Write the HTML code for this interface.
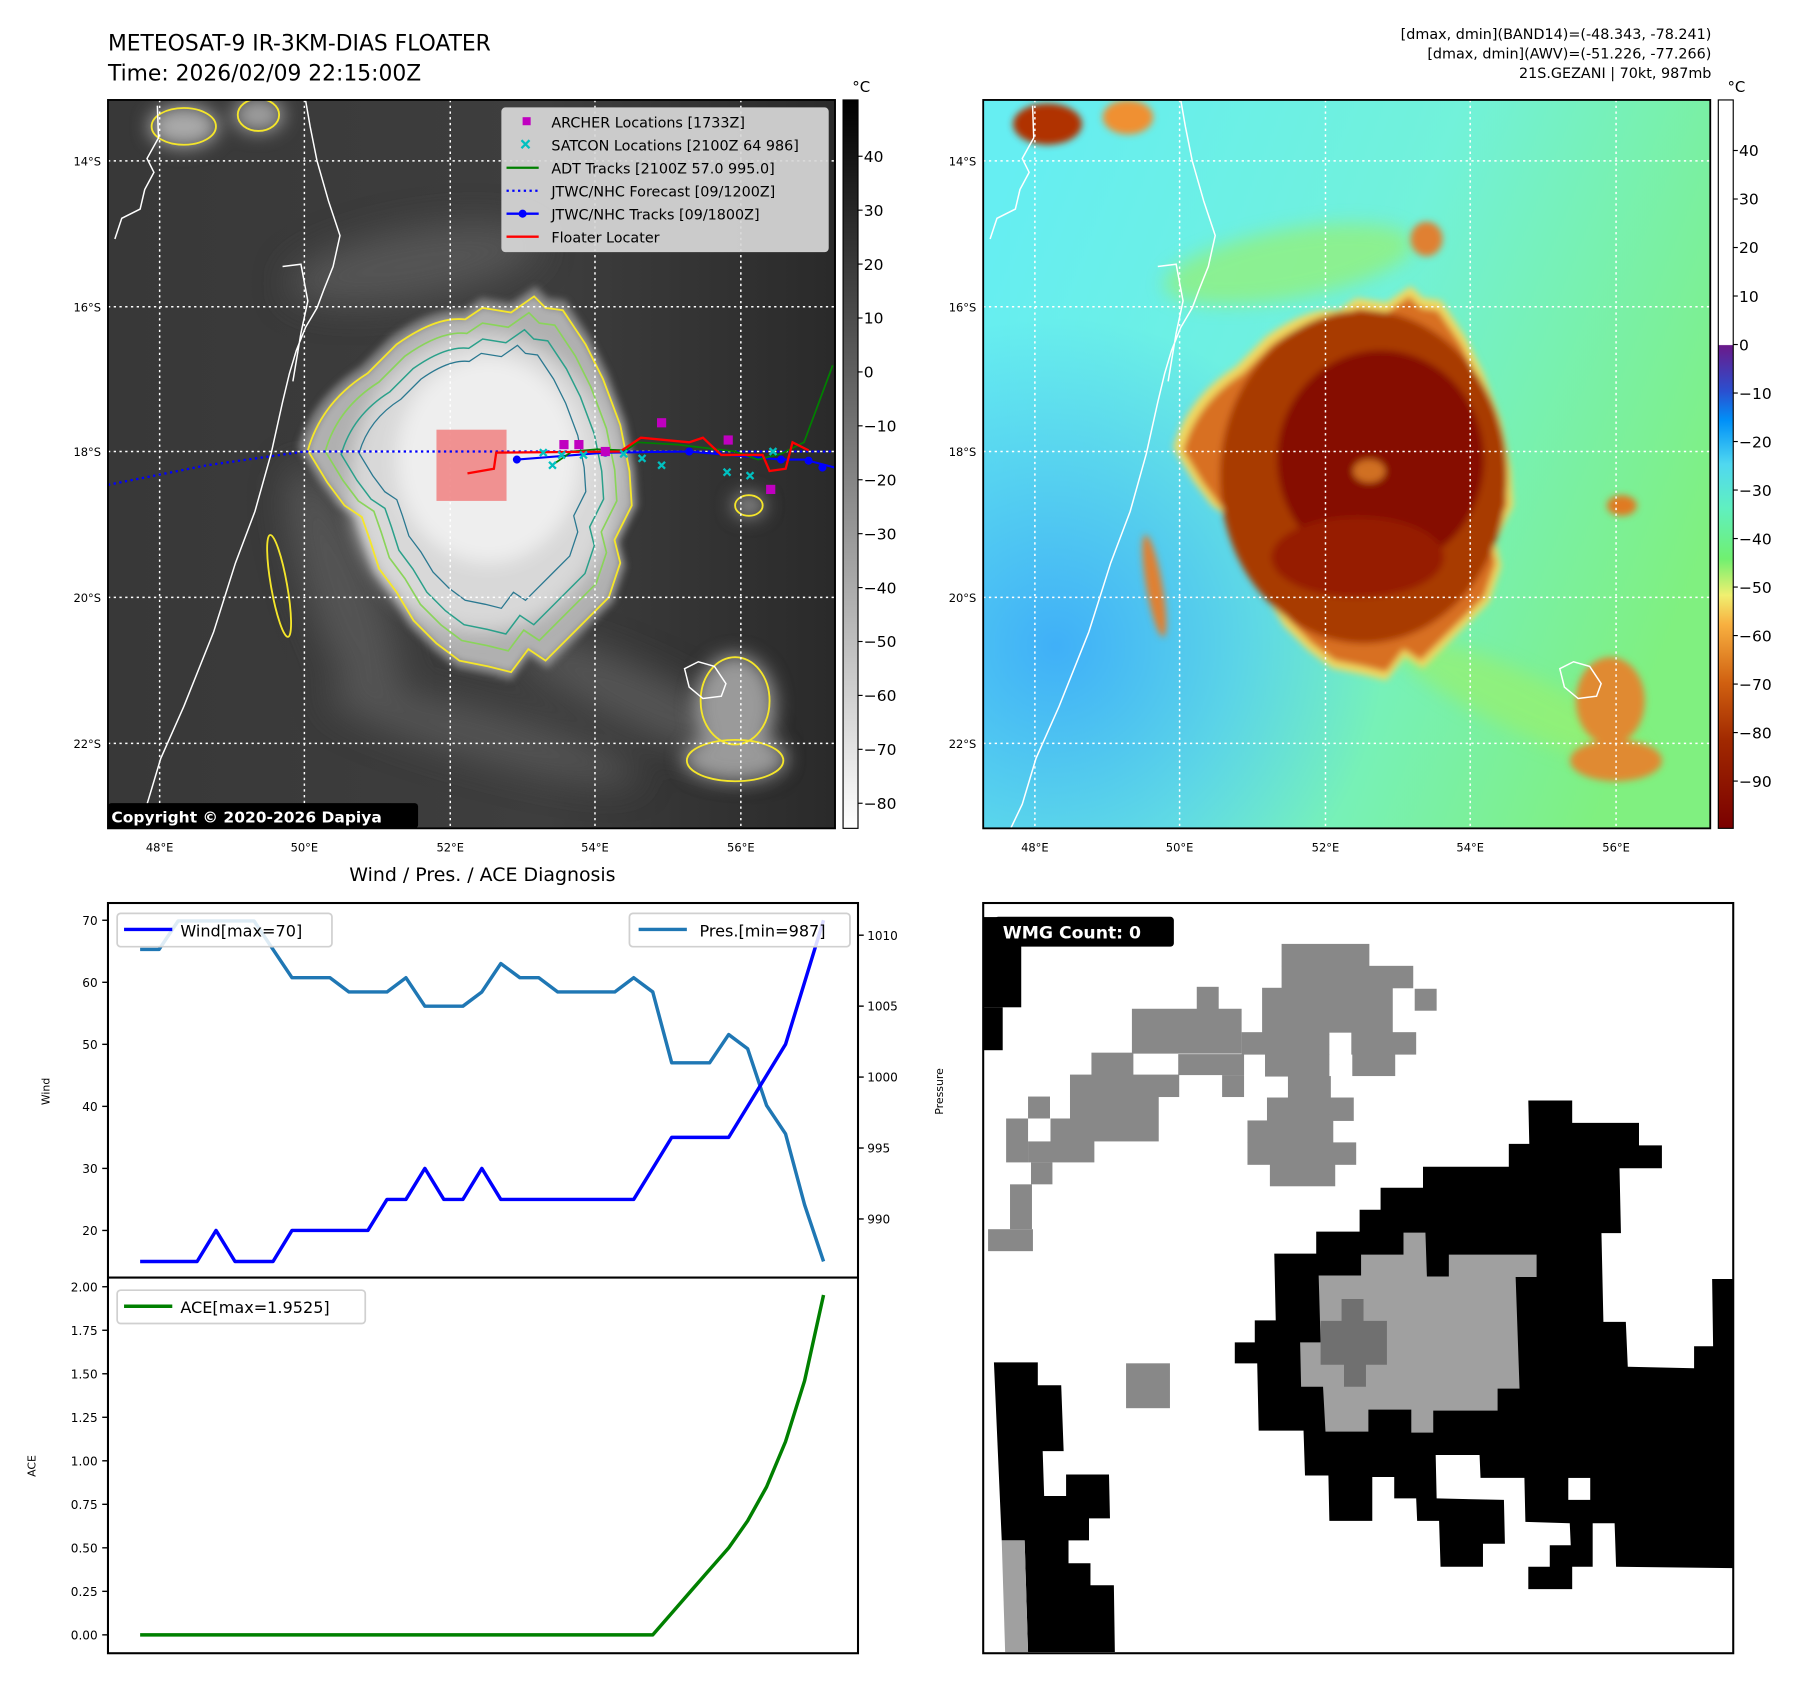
<!DOCTYPE html>
<html><head><meta charset="utf-8">
<style>
html,body{margin:0;padding:0;background:#fff;}
svg{display:block;font-family:"DejaVu Sans","Liberation Sans",sans-serif;}
</style></head>
<body>
<svg id="root" width="1801" height="1690" viewBox="0 0 1568 1471" preserveAspectRatio="none" xmlns="http://www.w3.org/2000/svg">
<defs>
  <filter id="b3" x="-20%" y="-20%" width="140%" height="140%"><feGaussianBlur stdDeviation="3"/></filter>
  <filter id="b8" x="-30%" y="-30%" width="160%" height="160%"><feGaussianBlur stdDeviation="8"/></filter>
  <filter id="b15" x="-40%" y="-40%" width="180%" height="180%"><feGaussianBlur stdDeviation="15"/></filter>
  <clipPath id="c1"><rect x="94" y="87" width="633" height="634"/></clipPath>
  <clipPath id="c2"><rect x="856" y="87" width="633" height="634"/></clipPath>
  <clipPath id="c3"><rect x="856" y="786" width="653" height="653"/></clipPath>
  <linearGradient id="cb1" x1="0" y1="0" x2="0" y2="1"><stop offset="0" stop-color="#000"/><stop offset="1" stop-color="#fff"/></linearGradient>
  <linearGradient id="cb2" x1="0" y1="0" x2="0" y2="1">
    <stop offset="0" stop-color="#fff"/><stop offset="0.336" stop-color="#fff"/>
    <stop offset="0.337" stop-color="#6a1a8a"/><stop offset="0.40" stop-color="#2a50d0"/>
    <stop offset="0.44" stop-color="#0090f8"/><stop offset="0.50" stop-color="#50d8f0"/>
    <stop offset="0.56" stop-color="#60f0c0"/><stop offset="0.63" stop-color="#70f070"/>
    <stop offset="0.68" stop-color="#f0f070"/><stop offset="0.72" stop-color="#f8b040"/>
    <stop offset="0.80" stop-color="#d06010"/><stop offset="0.88" stop-color="#a02800"/>
    <stop offset="1" stop-color="#7a0000"/></linearGradient>
  <linearGradient id="bg2" x1="0" y1="0.2" x2="1" y2="0.6">
    <stop offset="0" stop-color="#66eef2"/><stop offset="0.5" stop-color="#72f2da"/><stop offset="1" stop-color="#80f080"/></linearGradient>
  <radialGradient id="bg2b" cx="0.1" cy="0.75" r="0.45"><stop offset="0" stop-color="#40b0f8"/><stop offset="1" stop-color="#40b0f8" stop-opacity="0"/></radialGradient>
  <linearGradient id="bg1" x1="0" y1="0" x2="1" y2="0"><stop offset="0" stop-color="#383838"/><stop offset="0.6" stop-color="#3e3e3e"/><stop offset="1" stop-color="#2a2a2a"/></linearGradient>
  <path id="cyc" d="M268,392 Q280,350 320,325 L345,300 Q380,275 405,278 L420,268 L445,272 L465,258 L475,268 L490,270 L510,300 L525,330 L540,370 L548,410 L550,440 L535,470 L540,490 L530,520 L510,540 L490,560 L475,575 L460,565 L445,585 L425,580 L400,575 L380,560 L360,540 L345,515 L330,495 L322,470 L315,450 L300,440 L285,420 Z"/>
  <path id="coast" d="M118,721 L128,700 L140,660 L160,615 L186,550 L205,490 L222,445 L236,395 L246,350 L252,325 L258,305 L266,285 L276,268 L282,252 L290,232 L296,205 L286,175 L276,140 L270,110 L266,87 M246,232 L262,230 L268,262 L262,290 L255,332 M100,208 L106,190 L122,182 L126,165 L134,150 L128,138 L138,120 L137,92 M596,582 L608,576 L622,580 L632,595 L628,606 L612,608 L600,598 Z"/>
</defs>

<text x="94" y="44" font-size="19">METEOSAT-9 IR-3KM-DIAS FLOATER</text>
<text x="94" y="70" font-size="19">Time: 2026/02/09 22:15:00Z</text>
<g font-size="12.5" text-anchor="end">
<text x="1490" y="34">[dmax, dmin](BAND14)=(-48.343, -78.241)</text>
<text x="1490" y="51">[dmax, dmin](AWV)=(-51.226, -77.266)</text>
<text x="1490" y="68">21S.GEZANI | 70kt, 987mb</text>
</g>

<!-- MAP 1 -->
<g clip-path="url(#c1)">
  <rect x="94" y="87" width="633" height="634" fill="url(#bg1)"/>
  <g filter="url(#b15)" fill="#555">
    <ellipse cx="360" cy="230" rx="110" ry="30" transform="rotate(-10 360 230)"/>
    <ellipse cx="300" cy="520" rx="30" ry="120" transform="rotate(-20 300 520)"/>
    <ellipse cx="560" cy="610" rx="120" ry="25" transform="rotate(25 560 610)"/>
    <ellipse cx="420" cy="640" rx="140" ry="20" transform="rotate(15 420 640)"/>
  </g>
  <g filter="url(#b3)">
    <use href="#cyc" fill="#a8a8a8" transform="translate(-22 -22) scale(1.05)" opacity="0.6"/>
    <use href="#cyc" fill="#b0b0b0"/>
  </g>
  <g filter="url(#b8)">
    <ellipse cx="420" cy="420" rx="115" ry="130" fill="#d8d8d8"/>
    <ellipse cx="425" cy="400" rx="80" ry="90" fill="#eeeeee"/>
    <ellipse cx="640" cy="615" rx="35" ry="45" fill="#9a9a9a"/>
    <ellipse cx="640" cy="660" rx="45" ry="20" fill="#9a9a9a"/>
    <ellipse cx="160" cy="110" rx="30" ry="18" fill="#aaaaaa"/>
    <ellipse cx="225" cy="100" rx="22" ry="15" fill="#a0a0a0"/>
    <ellipse cx="652" cy="440" rx="14" ry="10" fill="#909090"/>
  </g>
  <g fill="none" stroke-width="1.6">
    <use href="#cyc" stroke="#f5e62a"/>
    <use href="#cyc" stroke="#8ad45a" transform="translate(42 40) scale(0.9)"/>
    <use href="#cyc" stroke="#2aa08a" transform="translate(80 78) scale(0.81)"/>
    <use href="#cyc" stroke="#2a7890" transform="translate(125 120) scale(0.7)"/>
    <ellipse cx="160" cy="110" rx="28" ry="16" stroke="#f5e62a"/>
    <ellipse cx="225" cy="100" rx="18" ry="14" stroke="#f5e62a"/>
    <ellipse cx="640" cy="610" rx="30" ry="38" stroke="#f5e62a"/>
    <ellipse cx="640" cy="662" rx="42" ry="18" stroke="#f5e62a"/>
    <ellipse cx="652" cy="440" rx="12" ry="9" stroke="#f5e62a"/>
    <ellipse cx="243" cy="510" rx="7" ry="45" stroke="#f5e62a" transform="rotate(-10 243 510)"/>
  </g>
  <use href="#coast" fill="none" stroke="#fff" stroke-width="1.3"/>
  <g stroke="#fff" stroke-width="1.3" stroke-dasharray="2 3">
    <line x1="94" x2="727" y1="140" y2="140"/><line x1="94" x2="727" y1="267" y2="267"/><line x1="94" x2="727" y1="393" y2="393"/><line x1="94" x2="727" y1="520" y2="520"/><line x1="94" x2="727" y1="647" y2="647"/>
    <line y1="87" y2="721" x1="139" x2="139"/><line y1="87" y2="721" x1="265" x2="265"/><line y1="87" y2="721" x1="392" x2="392"/><line y1="87" y2="721" x1="518" x2="518"/><line y1="87" y2="721" x1="645" x2="645"/>
  </g>
  <rect x="380" y="374" width="61" height="62" fill="#f08080" opacity="0.85"/>
  <polyline points="94,422 180,405 265,393 727,393" fill="none" stroke="#0000ff" stroke-width="2" stroke-dasharray="2 3"/>
  <polyline points="450,400 527,394 600,393 680,400 700,400 727,407" fill="none" stroke="#0000ff" stroke-width="1.8"/>
  <g fill="#0000ff"><circle cx="450" cy="400" r="3.5"/><circle cx="527" cy="394" r="3.5"/><circle cx="600" cy="393" r="3.5"/><circle cx="680" cy="400" r="3.5"/><circle cx="704" cy="401" r="3.5"/><circle cx="716" cy="407" r="3.5"/></g>
  <polyline points="482,404 498,393 520,391 545,392 555,385 590,387 640,393 660,400 680,395 700,385 725,318" fill="none" stroke="#008000" stroke-width="1.5"/>
  <polyline points="407,412 430,408 432,394 540,393 558,381 600,385 612,381 628,396 664,396 670,410 684,408 690,385 704,392" fill="none" stroke="#ff0000" stroke-width="2"/>
  <g fill="none" stroke="#00c0c0" stroke-width="2">
    <path d="M470,391l6,6m0-6l-6,6M486,393l6,6m0-6l-6,6M505,393l6,6m0-6l-6,6M540,392l6,6m0-6l-6,6M556,396l6,6m0-6l-6,6M573,402l6,6m0-6l-6,6M630,408l6,6m0-6l-6,6M650,411l6,6m0-6l-6,6M670,390l6,6m0-6l-6,6M478,402l6,6m0-6l-6,6"/>
  </g>
  <g fill="#c000c0">
    <rect x="487" y="383" width="8" height="8"/><rect x="500" y="383" width="8" height="8"/><rect x="572" y="364" width="8" height="8"/><rect x="630" y="379" width="8" height="8"/><rect x="523" y="389" width="8" height="8"/><rect x="667" y="422" width="8" height="8"/>
  </g>
</g>
<rect x="94" y="87" width="633" height="634" fill="none" stroke="#000" stroke-width="1.6"/>
<g>
  <rect x="437" y="94" width="284" height="125" rx="3" fill="#d8d8d8" fill-opacity="0.92" stroke="#ccc"/>
  <rect x="455" y="102" width="7" height="7" fill="#c000c0"/>
  <path d="M454,122l7,7m0-7l-7,7" stroke="#00c0c0" stroke-width="2"/>
  <line x1="441" x2="469" y1="146" y2="146" stroke="#008000" stroke-width="2"/>
  <line x1="441" x2="469" y1="166" y2="166" stroke="#0000ff" stroke-width="2" stroke-dasharray="2 3"/>
  <line x1="441" x2="469" y1="186" y2="186" stroke="#0000ff" stroke-width="2"/><circle cx="455" cy="186" r="3.5" fill="#0000ff"/>
  <line x1="441" x2="469" y1="206" y2="206" stroke="#ff0000" stroke-width="2"/>
  <g font-size="12.5" fill="#000">
    <text x="480" y="111">ARCHER Locations [1733Z]</text>
    <text x="480" y="131">SATCON Locations [2100Z 64 986]</text>
    <text x="480" y="151">ADT Tracks [2100Z 57.0 995.0]</text>
    <text x="480" y="171">JTWC/NHC Forecast [09/1200Z]</text>
    <text x="480" y="191">JTWC/NHC Tracks [09/1800Z]</text>
    <text x="480" y="211">Floater Locater</text>
  </g>
</g>
<g>
  <rect x="94" y="699" width="270" height="22" rx="3" fill="#000"/>
  <text x="97" y="716" font-size="13.5" font-weight="bold" fill="#fff">Copyright © 2020-2026 Dapiya</text>
</g>
<g font-size="10" text-anchor="end">
  <text x="88" y="144">14°S</text><text x="88" y="271">16°S</text><text x="88" y="397">18°S</text><text x="88" y="524">20°S</text><text x="88" y="651">22°S</text>
</g>
<g font-size="10" text-anchor="middle">
  <text x="139" y="741">48°E</text><text x="265" y="741">50°E</text><text x="392" y="741">52°E</text><text x="518" y="741">54°E</text><text x="645" y="741">56°E</text>
</g>
<g>
  <rect x="734" y="87" width="13" height="634" fill="url(#cb1)" stroke="#000" stroke-width="1"/>
  <text x="742" y="80" font-size="13">°C</text>
  <g id="cb1ticks" font-size="13.5"></g>
</g>

<!-- MAP 2 -->
<g clip-path="url(#c2)">
  <rect x="856" y="87" width="633" height="634" fill="url(#bg2)"/>
  <rect x="856" y="87" width="633" height="634" fill="url(#bg2b)"/>
  <g transform="translate(762 0)">
    <g filter="url(#b8)" fill="#98f070" opacity="0.7">
      <ellipse cx="360" cy="230" rx="110" ry="30" transform="rotate(-10 360 230)"/>
      <ellipse cx="560" cy="610" rx="120" ry="25" transform="rotate(25 560 610)"/>
    </g>
    <g filter="url(#b3)">
      <use href="#cyc" fill="#f0d860" transform="translate(-22 -22) scale(1.05)"/>
      <use href="#cyc" fill="#d87020"/>
      <ellipse cx="425" cy="415" rx="125" ry="145" fill="#a83a06"/>
      <ellipse cx="440" cy="400" rx="90" ry="95" fill="#860800"/>
      <ellipse cx="420" cy="485" rx="75" ry="35" fill="#961e00"/>
      <ellipse cx="430" cy="410" rx="14" ry="10" fill="#d07020"/>
      <ellipse cx="640" cy="610" rx="30" ry="38" fill="#e08a30"/>
      <ellipse cx="645" cy="662" rx="40" ry="18" fill="#e08a30"/>
      <ellipse cx="150" cy="108" rx="30" ry="18" fill="#b03000"/>
      <ellipse cx="220" cy="102" rx="22" ry="15" fill="#f09030"/>
      <ellipse cx="650" cy="440" rx="13" ry="9" fill="#e07a20"/>
      <ellipse cx="480" cy="208" rx="14" ry="15" fill="#e08030"/>
      <ellipse cx="243" cy="510" rx="7" ry="45" fill="#e08030" transform="rotate(-10 243 510)"/>
    </g>
    <use href="#coast" fill="none" stroke="#fff" stroke-width="1.3"/>
    <g stroke="#fff" stroke-width="1.3" stroke-dasharray="2 3">
      <line x1="94" x2="727" y1="140" y2="140"/><line x1="94" x2="727" y1="267" y2="267"/><line x1="94" x2="727" y1="393" y2="393"/><line x1="94" x2="727" y1="520" y2="520"/><line x1="94" x2="727" y1="647" y2="647"/>
      <line y1="87" y2="721" x1="139" x2="139"/><line y1="87" y2="721" x1="265" x2="265"/><line y1="87" y2="721" x1="392" x2="392"/><line y1="87" y2="721" x1="518" x2="518"/><line y1="87" y2="721" x1="645" x2="645"/>
    </g>
  </g>
</g>
<rect x="856" y="87" width="633" height="634" fill="none" stroke="#000" stroke-width="1.6"/>
<g font-size="10" text-anchor="end">
  <text x="850" y="144">14°S</text><text x="850" y="271">16°S</text><text x="850" y="397">18°S</text><text x="850" y="524">20°S</text><text x="850" y="651">22°S</text>
</g>
<g font-size="10" text-anchor="middle">
  <text x="901" y="741">48°E</text><text x="1027" y="741">50°E</text><text x="1154" y="741">52°E</text><text x="1280" y="741">54°E</text><text x="1407" y="741">56°E</text>
</g>
<g>
  <rect x="1496" y="87" width="13" height="634" fill="url(#cb2)" stroke="#000" stroke-width="1"/>
  <text x="1504" y="80" font-size="13">°C</text>
  <g id="cb2ticks" font-size="13.5"></g>
</g>

<!-- Bottom-left chart -->
<text x="420" y="767" font-size="16.5" text-anchor="middle">Wind / Pres. / ACE Diagnosis</text>
<g id="chart">
  <rect x="94" y="786" width="653" height="653" fill="#fff" stroke="#000" stroke-width="1.8"/>
  <line x1="94" x2="747" y1="1112" y2="1112" stroke="#000" stroke-width="1.8"/>
  <text transform="translate(43 950) rotate(-90)" font-size="9.5" text-anchor="middle">Wind</text>
  <text transform="translate(821 950) rotate(-90)" font-size="9.5" text-anchor="middle">Pressure</text>
  <text transform="translate(31 1276) rotate(-90)" font-size="9.5" text-anchor="middle">ACE</text>
  <g id="ticks" font-size="10.5"></g>
  <g id="lines"></g>
  <g>
    <rect x="102" y="795" width="187" height="29" rx="3" fill="#fff" fill-opacity="0.85" stroke="#d0d0d0" stroke-width="1.5"/>
    <line x1="108" x2="150" y1="809" y2="809" stroke="#0000ff" stroke-width="3"/>
    <text x="157" y="815" font-size="14">Wind[max=70]</text>
  </g>
  <g>
    <rect x="548" y="795" width="192" height="29" rx="3" fill="#fff" fill-opacity="0.85" stroke="#d0d0d0" stroke-width="1.5"/>
    <line x1="556" x2="598" y1="809" y2="809" stroke="#1f77b4" stroke-width="3"/>
    <text x="609" y="815" font-size="14">Pres.[min=987]</text>
  </g>
  <g>
    <rect x="102" y="1123" width="216" height="29" rx="3" fill="#fff" fill-opacity="0.85" stroke="#d0d0d0" stroke-width="1.5"/>
    <line x1="108" x2="150" y1="1137" y2="1137" stroke="#008000" stroke-width="3"/>
    <text x="157" y="1143" font-size="14">ACE[max=1.9525]</text>
  </g>
</g>

<!-- Bottom-right WMG panel -->
<g>
  <rect x="856" y="786" width="653" height="653" fill="#fff"/>
  <g clip-path="url(#c3)">
  <g transform="translate(856 785.5) scale(0.4245)">
    <g fill="#000">
      <rect x="0" y="30" width="78" height="185"/><rect x="0" y="215" width="40" height="88"/>
      <polygon points="22,943 112,943 112,990 160,990 165,1125 122,1125 125,1217 170,1217 170,1173 258,1173 260,1263 217,1263 217,1308 175,1308 175,1355 220,1355 220,1400 268,1400 270,1537 92,1537 85,1308 38,1308"/>
      <polygon points="1118,406 1208,406 1208,452 1345,452 1345,498 1392,498 1392,545 1305,545 1308,678 1268,678 1272,860 1318,860 1322,952 1458,955 1458,910 1497,910 1495,772 1540,772 1540,1365 1298,1362 1295,1273 1250,1273 1250,1362 1208,1362 1208,1408 1118,1408 1118,1362 1162,1362 1162,1318 1205,1318 1203,1273 1112,1270 1110,1180 1020,1180 1018,1133 928,1133 930,1222 1068,1225 1070,1315 1025,1315 1025,1362 938,1362 935,1268 890,1268 888,1222 843,1222 843,1178 798,1178 798,1268 710,1268 708,1175 660,1175 657,1083 565,1083 562,945 516,945 516,902 557,902 557,857 600,857 597,720 683,720 683,675 772,675 772,630 815,630 815,585 902,585 902,542 1078,542 1078,495 1120,495"/>
    </g>
    <rect x="1200" y="1180" width="45" height="45" fill="#fff"/>
    <polygon fill="#a0a0a0" points="38,1308 85,1308 92,1537 45,1537"/>
    <polygon fill="#a0a0a0" points="862,677 907,677 910,767 955,767 955,722 1135,722 1135,768 1092,768 1100,997 1055,997 1055,1042 923,1042 923,1087 878,1087 878,1040 790,1040 790,1085 702,1085 697,993 652,993 650,902 692,902 688,765 775,765 775,722 862,722"/>
    <polygon fill="#707070" points="735,813 780,813 780,858 828,858 828,948 785,948 785,993 740,993 740,948 692,948 692,858 735,858"/>
    <g fill="#888888">
      <rect x="612" y="85" width="180" height="46"/><rect x="612" y="130" width="270" height="46"/><rect x="572" y="175" width="268" height="92"/><rect x="885" y="177" width="45" height="45"/><rect x="305" y="218" width="225" height="92"/><rect x="438" y="173" width="45" height="46"/><rect x="530" y="266" width="180" height="46"/><rect x="755" y="266" width="133" height="46"/><rect x="757" y="311" width="88" height="45"/><rect x="578" y="311" width="132" height="46"/><rect x="400" y="311" width="135" height="43"/><rect x="490" y="354" width="45" height="45"/><rect x="625" y="356" width="88" height="46"/><rect x="222" y="308" width="86" height="46"/><rect x="178" y="353" width="224" height="46"/><rect x="178" y="398" width="182" height="92"/><rect x="582" y="400" width="178" height="48"/><rect x="542" y="447" width="176" height="46"/><rect x="542" y="492" width="223" height="46"/><rect x="588" y="537" width="134" height="45"/><rect x="138" y="443" width="90" height="90"/><rect x="92" y="398" width="45" height="45"/><rect x="47" y="443" width="45" height="90"/><rect x="92" y="490" width="48" height="43"/><rect x="98" y="533" width="44" height="45"/><rect x="55" y="578" width="45" height="92"/><rect x="10" y="670" width="92" height="45"/><rect x="293" y="945" width="90" height="92"/>
    </g>
  </g>
  </g>
  <rect x="856" y="786" width="653" height="653" fill="none" stroke="#000" stroke-width="1.8"/>
  <g>
    <rect x="866" y="798" width="156" height="26" rx="3" fill="#000"/>
    <text x="873" y="817" font-size="15" font-weight="bold" fill="#fff">WMG Count: 0</text>
  </g>
</g>

<script>
var windValues = [15,15,15,15,20,15,15,15,20,20,20,20,20,25,25,30,25,25,30,25,25,25,25,25,25,25,25,30,35,35,35,35,40,45,50,60,70];
var presValues = [1009,1009,1011,1011,1011,1011,1011,1009,1007,1007,1007,1006,1006,1006,1007,1005,1005,1005,1006,1008,1007,1007,1006,1006,1006,1006,1007,1006,1001,1001,1001,1003,1002,998,996,991,987];
var aceValues = [0,0,0,0,0,0,0,0,0,0,0,0,0,0,0,0,0,0,0,0,0,0,0,0,0,0,0,0,0.125,0.25,0.375,0.5,0.655,0.85,1.11,1.46,1.9525];
var windTicks = [20,30,40,50,60,70];
var presTicks = [990,995,1000,1005,1010];
var aceTicks = [0,0.25,0.5,0.75,1.0,1.25,1.5,1.75,2.0];
var cb1Ticks = [40,30,20,10,0,-10,-20,-30,-40,-50,-60,-70,-80];
var cb2Ticks = [40,30,20,10,0,-10,-20,-30,-40,-50,-60,-70,-80,-90];

var NS = 'http://www.w3.org/2000/svg';
function xS(i){ return 122 + i * (717 - 122) / (windValues.length - 1); }
function yWind(v){ return 801 + (70 - v) * 5.4; }
function yPres(p){ return 814 + (1010 - p) * 12.35; }
function yAce(v){ return 1423 - v * 151.5; }
function yCb1(v){ return 136 + (40 - v) * 4.693; }
function yCb2(v){ return 131 + (40 - v) * 4.222; }

function mk(tag, attrs, parent){
  var e = document.createElementNS(NS, tag);
  for (var k in attrs) e.setAttribute(k, attrs[k]);
  parent.appendChild(e);
  return e;
}
var ticksG = document.getElementById('ticks');
var linesG = document.getElementById('lines');

function tickSet(vals, yf, side, fmt, name){
  vals.forEach(function(v){
    var y = yf(v);
    var x0 = side === 'L' ? 94 : 747;
    var x1 = side === 'L' ? 89 : 752;
    var l = mk('line', {x1:x0, x2:x1, y1:y, y2:y, stroke:'#000', 'stroke-width':1.2}, ticksG);
    
    
    var t = mk('text', {x: side === 'L' ? 85 : 755, y: y + 4, 'text-anchor': side === 'L' ? 'end' : 'start'}, ticksG);
    t.textContent = fmt(v);
    
    
  });
}
tickSet(windTicks, yWind, 'L', function(v){return String(v);}, 'wind');
tickSet(presTicks, yPres, 'R', function(v){return String(v);}, 'pressure');
tickSet(aceTicks, yAce, 'L', function(v){return v.toFixed(2);}, 'ace');

function series(vals, yf, color, name){
  var pts = vals.map(function(v,i){ return xS(i).toFixed(1) + ',' + yf(v).toFixed(1); }).join(' ');
  var p = mk('polyline', {points: pts, fill:'none', stroke: color, 'stroke-width': 3, 'stroke-linejoin':'round'}, linesG);
  
  
}
series(presValues, yPres, '#1f77b4', 'pressure-line');
series(windValues, yWind, '#0000ff', 'wind-line');
series(aceValues, yAce, '#008000', 'ace-line');

function cbTicks(id, vals, yf, x){
  var g = document.getElementById(id);
  vals.forEach(function(v){
    var y = yf(v);
    var l = mk('line', {x1:x, x2:x+4, y1:y, y2:y, stroke:'#000', 'stroke-width':1}, g);
    
    
    var t = mk('text', {x:x+5, y:y+5}, g);
    t.textContent = v < 0 ? '\u2212' + Math.abs(v) : String(v);
    
    
  });
}
cbTicks('cb1ticks', cb1Ticks, yCb1, 747);
cbTicks('cb2ticks', cb2Ticks, yCb2, 1509);
</script>
</svg>
</body></html>
